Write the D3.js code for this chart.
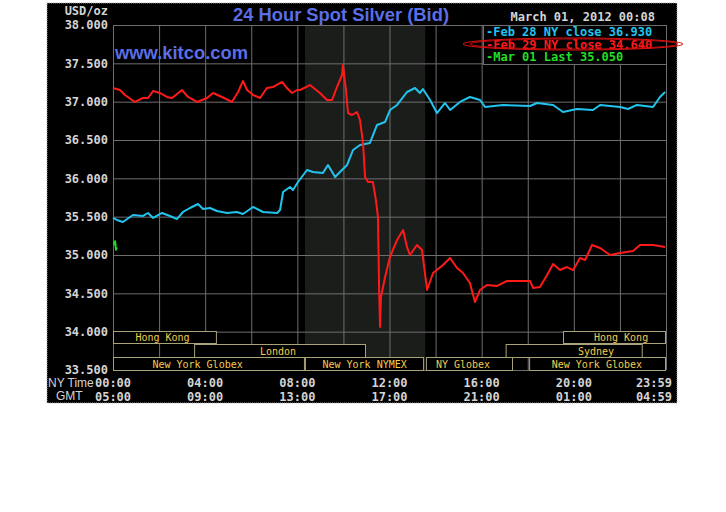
<!DOCTYPE html>
<html><head><meta charset="utf-8">
<script src="https://cdn.jsdelivr.net/npm/d3@7/dist/d3.min.js"></script>
<style>body{margin:0;background:#fff}svg{display:block}</style>
</head><body>
<script>
// ---- data (NY time in hours, price USD/oz) ----
const cyanHours = [0,0.17,0.43,0.74,0.87,1.30,1.52,1.74,2.13,2.47,2.78,3.04,3.34,3.69,3.91,4.21,4.51,4.95,5.38,5.64,6.08,6.51,7.12,7.25,7.38,7.68,7.81,8.03,8.42,8.68,9.11,9.33,9.64,9.85,10.16,10.42,10.72,11.15,11.46,11.81,12.02,12.33,12.76,13.11,13.32,13.45,13.76,14.06,14.41,14.63,15.06,15.49,15.93,16.15,16.93,18.10,18.40,19.10,19.53,20.14,20.83,21.14,22.01,22.35,22.74,23.44,23.74,23.96];
const cyanValues = [35.483,35.457,35.430,35.496,35.522,35.509,35.548,35.483,35.548,35.509,35.470,35.561,35.613,35.665,35.600,35.613,35.574,35.548,35.561,35.535,35.626,35.561,35.548,35.587,35.822,35.887,35.848,35.952,36.109,36.083,36.070,36.174,36.017,36.083,36.174,36.370,36.435,36.461,36.696,36.735,36.891,36.957,37.126,37.178,37.113,37.165,37.022,36.852,36.983,36.891,36.996,37.061,37.022,36.930,36.957,36.943,36.983,36.957,36.865,36.904,36.891,36.957,36.930,36.904,36.957,36.930,37.061,37.126];

const redHours = [0,0.30,0.52,0.95,1.30,1.52,1.74,2.04,2.34,2.56,2.99,3.26,3.65,4.08,4.34,4.73,5.16,5.43,5.64,5.82,6.08,6.38,6.68,6.94,7.34,7.55,7.77,7.99,8.12,8.55,8.98,9.29,9.51,9.72,9.94,9.98,10.11,10.20,10.37,10.59,10.72,10.85,10.94,11.07,11.28,11.41,11.50,11.55,11.59,11.63,11.81,12.02,12.33,12.59,12.76,12.89,13.19,13.41,13.63,13.89,14.32,14.63,14.93,15.19,15.49,15.71,15.93,16.23,16.67,17.10,18.10,18.23,18.53,18.84,19.10,19.40,19.70,19.97,20.27,20.49,20.79,21.14,21.57,22.01,22.57,22.87,23.44,23.96];
const redValues = [37.178,37.152,37.087,36.996,37.048,37.048,37.139,37.113,37.061,37.048,37.152,37.061,36.996,37.048,37.113,37.061,36.996,37.126,37.270,37.152,37.087,37.048,37.178,37.191,37.257,37.178,37.113,37.152,37.152,37.217,37.113,37.022,37.022,37.191,37.348,37.478,37.152,36.852,36.826,36.865,36.761,36.461,36.017,35.952,35.952,35.717,35.496,34.544,34.061,34.452,34.713,34.974,35.196,35.326,35.104,35.000,35.130,35.065,34.544,34.765,34.870,34.961,34.830,34.765,34.635,34.387,34.544,34.609,34.596,34.661,34.661,34.570,34.583,34.739,34.883,34.804,34.843,34.804,34.961,34.935,35.130,35.091,35.000,35.026,35.052,35.130,35.130,35.104];

const greenHours = [0.04,0.09,0.13,0.17];
const greenValues = [35.13,35.18,35.07,35.10];

const legendLabels = ["-Feb 28 NY close 36.930","-Feb 29 NY close 34.640","-Mar 01 Last 35.050"];
const seriesColors = ["#22c4ee","#ff1a1a","#22dd22"];

const yTicks = [33.5,34,34.5,35,35.5,36,36.5,37,37.5,38];
const xTicks = [0,4,8,12,16,20,24];
const nyLabels = ["00:00","04:00","08:00","12:00","16:00","20:00","23:59"];
const gmtLabels = ["05:00","09:00","13:00","17:00","21:00","01:00","04:59"];

const sessionNames = ["Hong Kong","Hong Kong","London","Sydney","New York Globex","New York NYMEX","NY Globex","New York Globex"];
const sessionStart = [0,19.53,3.52,17.04,0,8.33,13.58,18.06];
const sessionEnd   = [4.51,24,10.98,22.99,8.33,13.5,17.36,24];
const sessionRow   = [0,0,1,1,2,2,2,2];
const sessionLabelAt = [2.15,22.05,7.16,20.96,3.67,10.92,15.19,21.0];
const nymexBand = [8.33,13.55];

const title = "24 Hour Spot Silver (Bid)";
const stamp = "March 01, 2012 00:08";

// ---- drawing ----
const W=726,H=512;
const svg=d3.select("body").append("svg").attr("width",W).attr("height",H);
svg.append("rect").attr("width",W).attr("height",H).attr("fill","#fff");
svg.append("rect").attr("x",47).attr("y",3).attr("width",630).attr("height",400)
  .attr("fill","#000").attr("stroke","#aaa").attr("stroke-dasharray","1,1");

const x=d3.scaleLinear().domain([0,24]).range([113,666]);
const y=d3.scaleLinear().domain([33.5,38]).range([370,25]);
const mono="'DejaVu Sans Mono', monospace";

// NYMEX shaded band
svg.append("rect").attr("x",x(nymexBand[0])).attr("y",y(38))
  .attr("width",x(nymexBand[1])-x(nymexBand[0])).attr("height",y(33.5)-y(38))
  .attr("fill","#1b1d1b");

// grid via axes
const gridColor="#6e6e6e";
const gy=svg.append("g").attr("transform",`translate(${x(0)},0)`)
  .call(d3.axisLeft(y).tickValues(yTicks).tickSize(-(x(24)-x(0))).tickFormat(d3.format(".3f")));
gy.select(".domain").remove();
gy.selectAll("line").attr("stroke",gridColor);
gy.selectAll("text").attr("fill","#d4d4d4").attr("font-family",mono).attr("font-size",12)
  .attr("font-weight","bold").attr("x",-5);

const gx=svg.append("g").attr("transform",`translate(0,${y(33.5)})`)
  .call(d3.axisBottom(x).ticks(12).tickSize(-(y(33.5)-y(38))).tickFormat(""));
gx.select(".domain").remove();
gx.selectAll("line").attr("stroke",gridColor);

// session boxes
const rowTop=[331,344,357], rowH=[12,13,13];
sessionNames.forEach((n,i)=>{
  const r=sessionRow[i];
  svg.append("rect").attr("x",x(sessionStart[i])+0.5).attr("y",rowTop[r]+0.5)
    .attr("width",x(sessionEnd[i])-x(sessionStart[i])-1).attr("height",rowH[r])
    .attr("fill","#000").attr("stroke","#a8a478").attr("stroke-width",1);
  svg.append("text").attr("x",x(sessionLabelAt[i])).attr("y",rowTop[r]+rowH[r]/2+4)
    .attr("text-anchor","middle").attr("font-family",mono).attr("font-size",10)
    .attr("fill","#f0cc50").text(n);
});

// series lines
const line=d3.line().x(d=>x(d[0])).y(d=>y(d[1]));
const series=[[cyanHours,cyanValues],[redHours,redValues],[greenHours,greenValues]];
series.forEach(([hs,vs],i)=>{
  svg.append("path").datum(hs.map((h,j)=>[h,vs[j]])).attr("d",line)
    .attr("fill","none").attr("stroke",seriesColors[i]).attr("stroke-width",2)
    .attr("stroke-linejoin","round");
});

// legend box
svg.append("rect").attr("x",483.5).attr("y",25.5).attr("width",183).attr("height",39)
  .attr("fill","#000").attr("stroke",gridColor);
legendLabels.forEach((t,i)=>{
  svg.append("text").attr("x",486).attr("y",36+i*12.5).attr("font-family",mono)
    .attr("font-size",12).attr("font-weight","bold").attr("fill",seriesColors[i]).text(t);
});
// red annotation ellipse
svg.append("ellipse").attr("cx",573).attr("cy",44).attr("rx",110).attr("ry",6)
  .attr("fill","none").attr("stroke","#e01010").attr("stroke-width",1);
svg.append("ellipse").attr("cx",574).attr("cy",44).attr("rx",104).attr("ry",5)
  .attr("fill","none").attr("stroke","#e01010").attr("stroke-width",0.8);

// titles
svg.append("text").attr("x",341).attr("y",21).attr("text-anchor","middle")
  .attr("font-family","'Liberation Sans', Arial, sans-serif").attr("font-weight","bold")
  .attr("font-size",19).attr("textLength",216).attr("lengthAdjust","spacingAndGlyphs")
  .attr("fill","#5a6ee6").text(title);
svg.append("text").attr("x",115).attr("y",59)
  .attr("font-family","'Liberation Sans', Arial, sans-serif").attr("font-weight","bold")
  .attr("font-size",18).attr("textLength",133).attr("lengthAdjust","spacingAndGlyphs")
  .attr("fill","#5a6ee6").text("www.kitco.com");
svg.append("text").attr("x",655).attr("y",21).attr("text-anchor","end").attr("font-family",mono)
  .attr("font-size",12).attr("font-weight","bold").attr("fill","#d4d4d4").text(stamp);
svg.append("text").attr("x",108).attr("y",15).attr("text-anchor","end").attr("font-family",mono)
  .attr("font-size",12).attr("font-weight","bold").attr("fill","#d4d4d4").text("USD/oz");

// time axis labels
svg.append("text").attr("x",48).attr("y",387).attr("font-family","'Liberation Sans', Arial, sans-serif")
  .attr("font-size",12).attr("fill","#d4d4d4").text("NY Time");
svg.append("text").attr("x",56).attr("y",400).attr("font-family","'Liberation Sans', Arial, sans-serif")
  .attr("font-size",12).attr("fill","#d4d4d4").text("GMT");
[nyLabels,gmtLabels].forEach((labs,r)=>{
  xTicks.forEach((t,i)=>{
    const last=i===xTicks.length-1;
    svg.append("text").attr("x",last?672:x(t)).attr("y",387+r*14)
      .attr("text-anchor",last?"end":"middle").attr("font-family",mono)
      .attr("font-size",12).attr("font-weight","bold").attr("fill","#d4d4d4").text(labs[i]);
  });
});
</script>
</body></html>
